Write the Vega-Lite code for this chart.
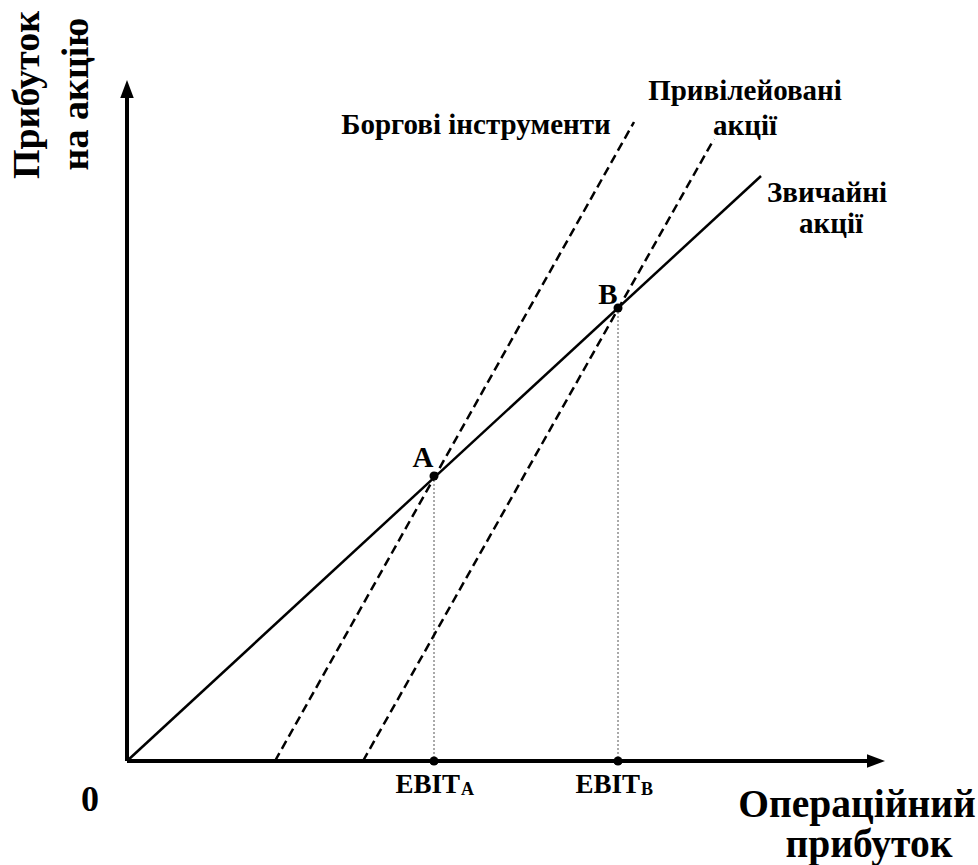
{
  "$schema": "https://vega.github.io/schema/vega-lite/v6.json",
  "width": 978,
  "height": 865,
  "padding": 0,
  "autosize": {"type": "none"},
  "background": "white",
  "config": {"view": {"stroke": null}},
  "datasets": {
    "axes": [
      {"name": "x", "x": 0, "y": 0, "x2": 74.6, "y2": 0},
      {"name": "y", "x": 0, "y": 0, "x2": 0, "y2": 66.6}
    ],
    "common": [
      {"series": "Звичайні акції", "x": 0, "y": 0, "x2": 63.4, "y2": 58.5}
    ],
    "dashed": [
      {"series": "Боргові інструменти", "x": 14.8, "y": 0, "x2": 50.7, "y2": 63.9},
      {"series": "Привілейовані акції", "x": 23.6, "y": 0, "x2": 58.7, "y2": 62.2}
    ],
    "points": [
      {"name": "A", "x": 30.7, "y": 28.5},
      {"name": "B", "x": 49.1, "y": 45.3},
      {"name": "EBIT_A", "x": 30.7, "y": 0},
      {"name": "EBIT_B", "x": 49.1, "y": 0}
    ],
    "drops": [
      {"name": "A", "x": 30.7, "y": 28.5, "y2": 0},
      {"name": "B", "x": 49.1, "y": 45.3, "y2": 0}
    ],
    "labels": [
      {"text": "Боргові інструменти", "x": 34.9, "y": 63.6},
      {"text": "Привілейовані", "x": 61.8, "y": 67.0},
      {"text": "акції", "x": 61.8, "y": 63.5},
      {"text": "Звичайні", "x": 70.0, "y": 56.8},
      {"text": "акції", "x": 70.4, "y": 53.7},
      {"text": "A", "x": 29.6, "y": 30.3},
      {"text": "B", "x": 48.1, "y": 46.6}
    ],
    "zero": [
      {"text": "0", "x": -3.7, "y": -3.9}
    ],
    "ebit": [
      {"text": "EBIT", "x": 33.3, "y": -2.4},
      {"text": "EBIT", "x": 51.3, "y": -2.4}
    ],
    "subs": [
      {"text": "A", "x": 33.4, "y": -2.9},
      {"text": "B", "x": 51.4, "y": -2.9}
    ],
    "xtitle": [
      {"text": "Операційний", "x": 73.0, "y": -4.4},
      {"text": "прибуток", "x": 74.2, "y": -8.4}
    ],
    "ytitle": [
      {"text": "Прибуток", "x": -9.9, "y": 66.6},
      {"text": "на акцію", "x": -5.0, "y": 66.7}
    ],
    "yarrow": [{"x": 0, "y": 67.2}],
    "xarrow": [{"x": 74.9, "y": 0}]
  },
  "encoding": {
    "x": {"field": "x", "type": "quantitative", "scale": {"domain": [-12.7, 85.1], "nice": false, "zero": false}, "axis": null},
    "y": {"field": "y", "type": "quantitative", "scale": {"domain": [-10.4, 76.1], "nice": false, "zero": false}, "axis": null}
  },
  "layer": [
    {
      "data": {"name": "drops"},
      "mark": {"type": "rule", "stroke": "#555555", "strokeWidth": 1, "strokeDash": [2, 2]},
      "encoding": {"y2": {"field": "y2"}}
    },
    {
      "data": {"name": "axes"},
      "mark": {"type": "rule", "stroke": "black", "strokeWidth": 4},
      "encoding": {"x2": {"field": "x2"}, "y2": {"field": "y2"}}
    },
    {
      "data": {"name": "yarrow"},
      "mark": {"type": "point", "shape": "M0,-1L0.75,1L-0.75,1Z", "size": 324, "filled": true, "fill": "black", "stroke": null, "opacity": 1}
    },
    {
      "data": {"name": "xarrow"},
      "mark": {"type": "point", "shape": "M1,0L-1,-0.75L-1,0.75Z", "size": 324, "filled": true, "fill": "black", "stroke": null, "opacity": 1}
    },
    {
      "data": {"name": "common"},
      "mark": {"type": "rule", "stroke": "black", "strokeWidth": 2.5},
      "encoding": {"x2": {"field": "x2"}, "y2": {"field": "y2"}}
    },
    {
      "data": {"name": "dashed"},
      "mark": {"type": "rule", "stroke": "black", "strokeWidth": 2.5, "strokeDash": [9, 5]},
      "encoding": {"x2": {"field": "x2"}, "y2": {"field": "y2"}}
    },
    {
      "data": {"name": "points"},
      "mark": {"type": "circle", "size": 81, "fill": "black", "opacity": 1}
    },
    {
      "data": {"name": "labels"},
      "mark": {"type": "text", "font": "Liberation Serif", "fontWeight": "bold", "fontSize": 29, "align": "center", "baseline": "middle", "fill": "black"},
      "encoding": {"text": {"field": "text"}}
    },
    {
      "data": {"name": "zero"},
      "mark": {"type": "text", "font": "Liberation Serif", "fontWeight": "bold", "fontSize": 36, "align": "center", "baseline": "middle", "fill": "black"},
      "encoding": {"text": {"field": "text"}}
    },
    {
      "data": {"name": "ebit"},
      "mark": {"type": "text", "font": "Liberation Serif", "fontWeight": "bold", "fontSize": 27, "align": "right", "baseline": "middle", "fill": "black"},
      "encoding": {"text": {"field": "text"}}
    },
    {
      "data": {"name": "subs"},
      "mark": {"type": "text", "font": "Liberation Serif", "fontWeight": "bold", "fontSize": 18, "align": "left", "baseline": "middle", "fill": "black"},
      "encoding": {"text": {"field": "text"}}
    },
    {
      "data": {"name": "xtitle"},
      "mark": {"type": "text", "font": "Liberation Serif", "fontWeight": "bold", "fontSize": 39.5, "align": "center", "baseline": "middle", "fill": "black"},
      "encoding": {"text": {"field": "text"}}
    },
    {
      "data": {"name": "ytitle"},
      "mark": {"type": "text", "font": "Liberation Serif", "fontWeight": "bold", "fontSize": 38, "angle": 270, "align": "center", "baseline": "middle", "fill": "black"},
      "encoding": {"text": {"field": "text"}}
    }
  ]
}
